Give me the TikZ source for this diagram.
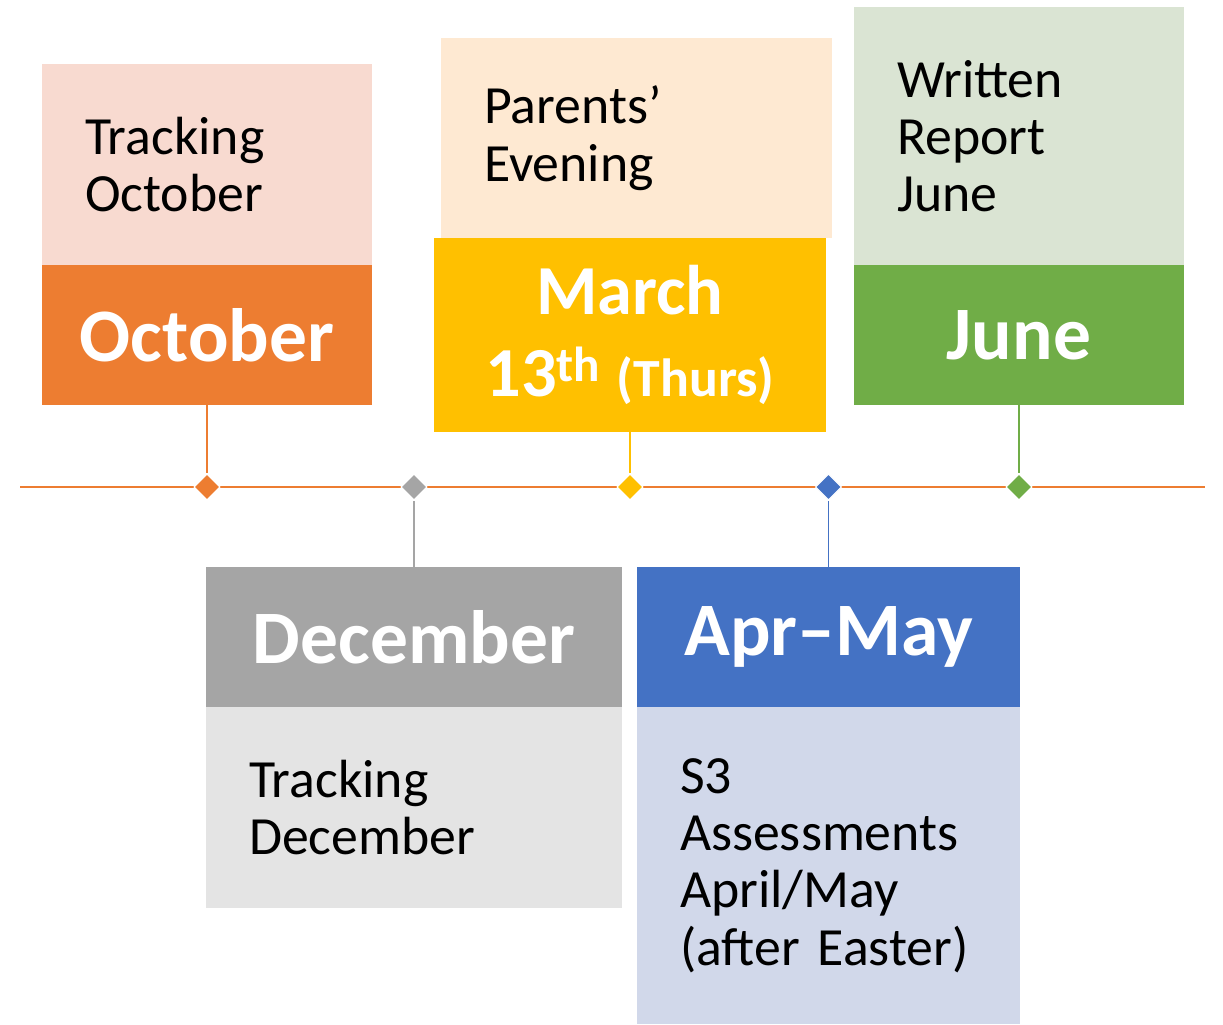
\documentclass[tikz,border=0pt]{standalone}
\usepackage{fontspec}
\setmainfont{Carlito}
\usetikzlibrary{shapes.geometric,positioning}
\definecolor{octdark}{HTML}{ED7D31}
\definecolor{octlight}{HTML}{F8DAD0}
\definecolor{mardark}{HTML}{FFC000}
\definecolor{marlight}{HTML}{FEE9D2}
\definecolor{jundark}{HTML}{70AD47}
\definecolor{junlight}{HTML}{DAE4D3}
\definecolor{decdark}{HTML}{A5A5A5}
\definecolor{declight}{HTML}{E4E4E4}
\definecolor{aprdark}{HTML}{4472C4}
\definecolor{aprlight}{HTML}{D1D8EA}
\tikzset{
	event head/.style={fill=#1, text=white, inner sep=0pt, outer sep=0pt, align=center,
		minimum height=2.8cm, font=\fontsize{43}{50}\bfseries\selectfont},
	event note/.style={fill=#1, inner xsep=.86cm, inner ysep=0pt, outer sep=0pt, align=left,
		font=\fontsize{30.6}{32.6}\selectfont},
	event dot/.style={diamond, fill=#1, draw=white, line width=.6pt, inner sep=0pt,
		minimum width=.52cm, minimum height=.52cm},
	event stem/.style={draw=#1, line width=.6pt},
	event line/.style={draw=octdark, line width=1.6pt}
}

\begin{document}
\begin{tikzpicture}[x=.02cm, y=-.02cm]
	\useasboundingbox (0,0) rectangle (1223,1024);
	\node[event head=octdark, minimum width=6.6cm] (oct) at (207,335) {October};
	\node[event head=mardark, minimum width=7.84cm, minimum height=3.88cm,
		font=\fontsize{40}{47}\bfseries\selectfont] (mar) at (630,335)
		{March\\13\textsuperscript{th} {\fontsize{30.6}{32}\selectfont(Thurs)}};
	\node[event head=jundark, minimum width=6.6cm] (jun) at (1019,335) {June};
	\node[event head=decdark, minimum width=8.32cm] (dec) at (414,637) {December};
	\node[event head=aprdark, minimum width=7.66cm] (apr) at (828.5,637) {Apr–May};
	% notes above and below the heads
	\node[event note=octlight, text width=4.88cm, minimum height=4.02cm, above=0pt of oct] (octnote) {Tracking\\October};
	\node[event note=marlight, text width=6.1cm, minimum height=4cm, above=0pt of mar, xshift=.13cm] (marnote) {Parents’\\Evening};
	\node[event note=junlight, text width=4.88cm, minimum height=5.16cm, above=0pt of jun] (junnote) {Written\\Report\\June};
	\node[event note=declight, text width=6.6cm, minimum height=4.02cm, below=0pt of dec] (decnote) {Tracking\\December};
	\node[event note=aprlight, text width=5.94cm, minimum height=6.34cm, below=0pt of apr] (aprnote) {S3\\Assessments\\April/May\\(after Easter)};
	% timeline
	\coordinate (tstart) at (20,487);
	\coordinate (tend) at (1205,487);
	\draw[event line] (tstart) -- (tend);
	\node[event dot=octdark] (octdot) at (oct.south |- tstart) {};
	\node[event dot=decdark] (decdot) at (dec.north |- tstart) {};
	\node[event dot=mardark] (mardot) at (mar.south |- tstart) {};
	\node[event dot=aprdark] (aprdot) at (apr.north |- tstart) {};
	\node[event dot=jundark] (jundot) at (jun.south |- tstart) {};
	\draw[event stem=octdark] (oct) -- (octdot);
	\draw[event stem=decdark] (dec) -- (decdot);
	\draw[event stem=mardark] (mar) -- (mardot);
	\draw[event stem=aprdark] (apr) -- (aprdot);
	\draw[event stem=jundark] (jun) -- (jundot);
\end{tikzpicture}
\end{document}
